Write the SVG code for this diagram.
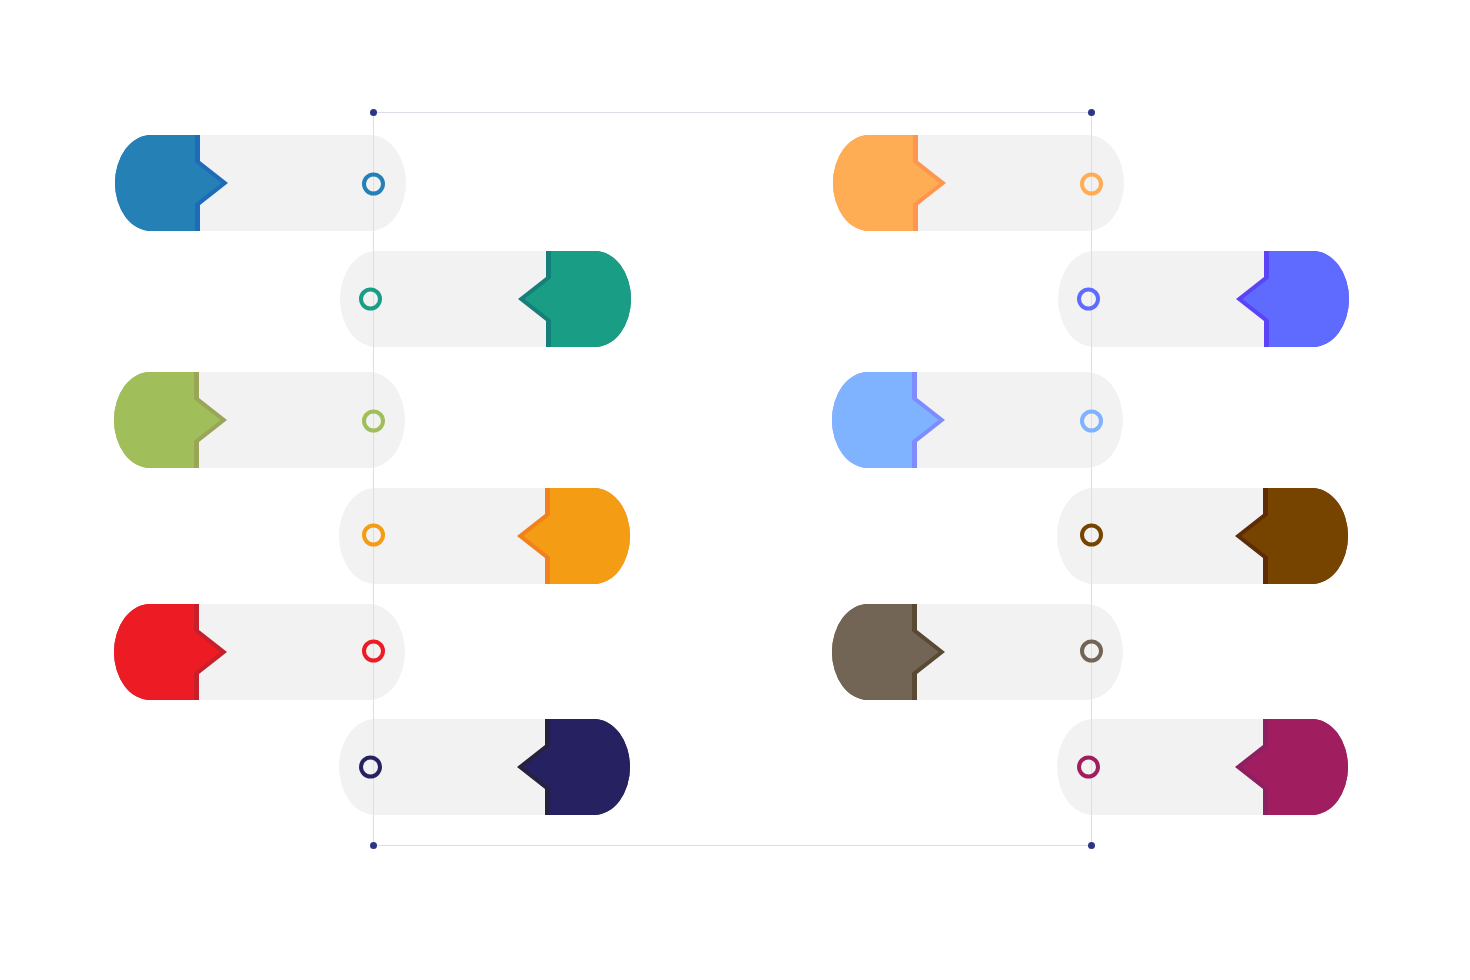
<svg xmlns="http://www.w3.org/2000/svg" width="1470" height="980" viewBox="0 0 1470 980">
<defs>
<style>
.bg{fill:#f2f2f2}
.ln{stroke:#dcdcec;stroke-width:1;fill:none}
.dot{fill:#2d3585}
.ring{fill:none;stroke-width:4}
</style>
<rect id="pill" width="291" height="96" rx="36" ry="48"/>
<path id="outer" d="M85,0 H36 A36,48 0 0 0 36,96 H85 V70 L113,48 L85,26 Z"/>
<path id="inner" d="M80,0 H36 A36,48 0 0 0 36,96 H80 V68.8 L106.6,48 L80,27.2 Z"/>
</defs>
<rect width="1470" height="980" fill="#ffffff"/>

<g id="node-1" transform="translate(115,135)">
<use href="#pill" class="bg"/><use href="#outer" fill="#1E6BBA"/><use href="#inner" fill="#2480B5"/>
</g>
<g id="node-2" transform="translate(340,251)">
<use href="#pill" class="bg"/><g transform="translate(291,0) scale(-1,1)"><use href="#outer" fill="#167F79"/><use href="#inner" fill="#199D85"/></g>
</g>
<g id="node-3" transform="translate(114,372)">
<use href="#pill" class="bg"/><use href="#outer" fill="#9AA557"/><use href="#inner" fill="#A0BF5A"/>
</g>
<g id="node-4" transform="translate(339,488)">
<use href="#pill" class="bg"/><g transform="translate(291,0) scale(-1,1)"><use href="#outer" fill="#F2801C"/><use href="#inner" fill="#F39C14"/></g>
</g>
<g id="node-5" transform="translate(114,604)">
<use href="#pill" class="bg"/><use href="#outer" fill="#C5202B"/><use href="#inner" fill="#ED1C24"/>
</g>
<g id="node-6" transform="translate(339,719)">
<use href="#pill" class="bg"/><g transform="translate(291,0) scale(-1,1)"><use href="#outer" fill="#25213F"/><use href="#inner" fill="#262262"/></g>
</g>
<g id="node-7" transform="translate(833,135)">
<use href="#pill" class="bg"/><use href="#outer" fill="#FF9650"/><use href="#inner" fill="#FFAD55"/>
</g>
<g id="node-8" transform="translate(1058,251)">
<use href="#pill" class="bg"/><g transform="translate(291,0) scale(-1,1)"><use href="#outer" fill="#5B44F8"/><use href="#inner" fill="#5F6BFF"/></g>
</g>
<g id="node-9" transform="translate(832,372)">
<use href="#pill" class="bg"/><use href="#outer" fill="#7E8CFF"/><use href="#inner" fill="#80B3FF"/>
</g>
<g id="node-10" transform="translate(1057,488)">
<use href="#pill" class="bg"/><g transform="translate(291,0) scale(-1,1)"><use href="#outer" fill="#5C2D07"/><use href="#inner" fill="#774400"/></g>
</g>
<g id="node-11" transform="translate(832,604)">
<use href="#pill" class="bg"/><use href="#outer" fill="#5B4A33"/><use href="#inner" fill="#736555"/>
</g>
<g id="node-12" transform="translate(1057,719)">
<use href="#pill" class="bg"/><g transform="translate(291,0) scale(-1,1)"><use href="#outer" fill="#8C2060"/><use href="#inner" fill="#A01E60"/></g>
</g>

<g id="connectors">
<path class="ln" d="M373.5,112.5 H1091.5 V845.5 H373.5 Z"/>
<circle class="dot" cx="373.5" cy="112.5" r="3.5"/>
<circle class="dot" cx="1091.5" cy="112.5" r="3.5"/>
<circle class="dot" cx="373.5" cy="845.5" r="3.5"/>
<circle class="dot" cx="1091.5" cy="845.5" r="3.5"/>
</g>

<g id="markers">
<circle class="ring" cx="373.5" cy="184" r="9.5" stroke="#2480B5"/>
<circle class="ring" cx="370.5" cy="299" r="9.5" stroke="#199D85"/>
<circle class="ring" cx="373.5" cy="421" r="9.5" stroke="#A0BF5A"/>
<circle class="ring" cx="373.5" cy="535" r="9.5" stroke="#F39C14"/>
<circle class="ring" cx="373.5" cy="651" r="9.5" stroke="#ED1C24"/>
<circle class="ring" cx="370.5" cy="767" r="9.5" stroke="#262262"/>
<circle class="ring" cx="1091.5" cy="184" r="9.5" stroke="#FFAD55"/>
<circle class="ring" cx="1088.5" cy="299" r="9.5" stroke="#5F6BFF"/>
<circle class="ring" cx="1091.5" cy="421" r="9.5" stroke="#80B3FF"/>
<circle class="ring" cx="1091.5" cy="535" r="9.5" stroke="#774400"/>
<circle class="ring" cx="1091.5" cy="651" r="9.5" stroke="#736555"/>
<circle class="ring" cx="1088.5" cy="767" r="9.5" stroke="#A01E60"/>
</g>
</svg>
